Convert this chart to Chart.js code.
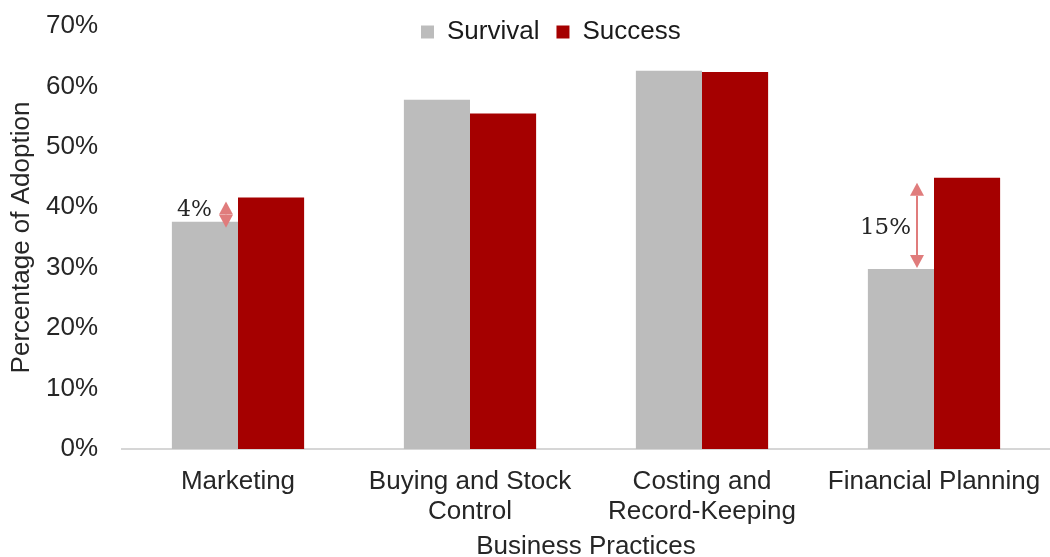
<!DOCTYPE html>
<html>
<head>
<meta charset="utf-8">
<script src="https://cdn.jsdelivr.net/npm/chart.js@4.4.1/dist/chart.umd.min.js"></script>
<style>
  html, body { margin: 0; padding: 0; background: #fff; overflow: hidden; }
  #wrap { width: 1050px; height: 557px; }
</style>
</head>
<body>
<div id="wrap"><canvas id="chart"></canvas></div>
<script>
// Chart data
const categories = ["Marketing", ["Buying and Stock", "Control"], ["Costing and", "Record-Keeping"], "Financial Planning"];
const survival = [37.6, 57.8, 62.6, 29.8];
const success = [41.6, 55.5, 62.4, 44.9];
const yTicks = [0, 10, 20, 30, 40, 50, 60, 70];

// Gap callouts: which categories get an arrow between the two bars
const gapCategories = [0, 3];

// Styling for the callouts (pixels)
const ARROW_COLOR = "#e07c7c";
const arrowInset = [12, 17];     // distance from right edge of the survival bar
const arrowTopPad = [4, 5];      // tip below the success value
const arrowBottomPad = [6, -1];  // tip below the survival value
const labelGap = [14, 6];        // space between label and arrow
const labelShift = [-4, 3];      // vertical nudge of the label

const FONT = "'Liberation Sans', Arial, sans-serif";
Chart.defaults.font.family = FONT;
Chart.defaults.color = "#262626";

// Draw the double-headed arrows and their % labels
const gapPlugin = {
  id: "gapArrows",
  afterDatasetsDraw(chart) {
    const ctx = chart.ctx;
    const y = chart.scales.y;
    const bars = chart.getDatasetMeta(0).data;
    gapCategories.forEach((idx, k) => {
      const bar = bars[idx];
      const x = bar.x + bar.width / 2 - arrowInset[k];
      const top = y.getPixelForValue(success[idx]) + arrowTopPad[k];
      const bottom = y.getPixelForValue(survival[idx]) + arrowBottomPad[k];
      const head = Math.min(13, (bottom - top) / 2);
      const headW = 14;

      ctx.save();
      ctx.strokeStyle = ARROW_COLOR;
      ctx.fillStyle = ARROW_COLOR;
      ctx.lineWidth = 2;
      if (bottom - top > 2 * head) {
        ctx.beginPath();
        ctx.moveTo(x, top + head);
        ctx.lineTo(x, bottom - head);
        ctx.stroke();
      }
      ctx.beginPath();
      ctx.moveTo(x, top);
      ctx.lineTo(x - headW / 2, top + head);
      ctx.lineTo(x + headW / 2, top + head);
      ctx.closePath();
      ctx.fill();
      ctx.beginPath();
      ctx.moveTo(x, bottom);
      ctx.lineTo(x - headW / 2, bottom - head);
      ctx.lineTo(x + headW / 2, bottom - head);
      ctx.closePath();
      ctx.fill();

      const diff = Math.round(success[idx] - survival[idx]);
      ctx.fillStyle = "#262626";
      ctx.font = (k === 0 ? "22px" : "23px") + " 'DejaVu Serif', serif";
      ctx.textAlign = "right";
      ctx.textBaseline = "middle";
      ctx.fillText(diff + "%", x - labelGap[k], (top + bottom) / 2 + labelShift[k]);
      ctx.restore();
    });
  }
};

// Put the legend where it sits in the original (overlapping the top of the plot)
const legendPlace = {
  id: "legendPlace",
  afterLayout(chart) {
    const lg = chart.legend;
    const pad = lg.options.labels.padding;
    lg.left = 421 - pad;
    lg.right = lg.left + 500;
    lg.top = 32 - 13 - pad;
    lg.bottom = lg.top + 40;
  }
};

new Chart(document.getElementById("chart"), {
  type: "bar",
  data: {
    labels: categories,
    datasets: [
      { label: "Survival", data: survival, backgroundColor: "#bcbcbc", borderWidth: 0 },
      { label: "Success", data: success, backgroundColor: "#a50000", borderWidth: 0 }
    ]
  },
  options: {
    responsive: true,
    maintainAspectRatio: false,
    animation: false,
    layout: { padding: { top: 25, right: 0, bottom: 0, left: 0 } },
    datasets: { bar: { categoryPercentage: 0.57, barPercentage: 1.0 } },
    plugins: {
      legend: {
        position: "top",
        align: "start",
        maxHeight: 1,
        labels: {
          boxWidth: 13,
          boxHeight: 13,
          padding: 17,
          font: { size: 26 },
          color: "#1a1a1a"
        }
      },
      tooltip: { enabled: false }
    },
    scales: {
      x: {
        grid: { display: false, drawTicks: true, tickLength: 15 },
        border: { display: true, color: "#d6d6d6", width: 2 },
        ticks: { padding: 3, font: { size: 26, lineHeight: 1.15 }, maxRotation: 0, autoSkip: false },
        title: {
          display: true,
          text: "Business Practices",
          font: { size: 26, lineHeight: 0.75 },
          padding: { top: 0, bottom: 0 }
        },
        afterFit(scale) { scale.height = 108; }
      },
      y: {
        min: 0,
        max: 70,
        grid: { display: false, drawTicks: true, tickLength: 21 },
        border: { display: false },
        afterBuildTicks(scale) { scale.ticks = yTicks.map(v => ({ value: v })); },
        ticks: { padding: 3, font: { size: 26 }, callback: v => v + "%" },
        title: {
          display: true,
          text: "Percentage of Adoption",
          font: { size: 26 },
          padding: { top: 6, bottom: 0 }
        },
        afterFit(scale) { scale.width = 122; }
      }
    }
  },
  plugins: [gapPlugin, legendPlace]
});
</script>
</body>
</html>
